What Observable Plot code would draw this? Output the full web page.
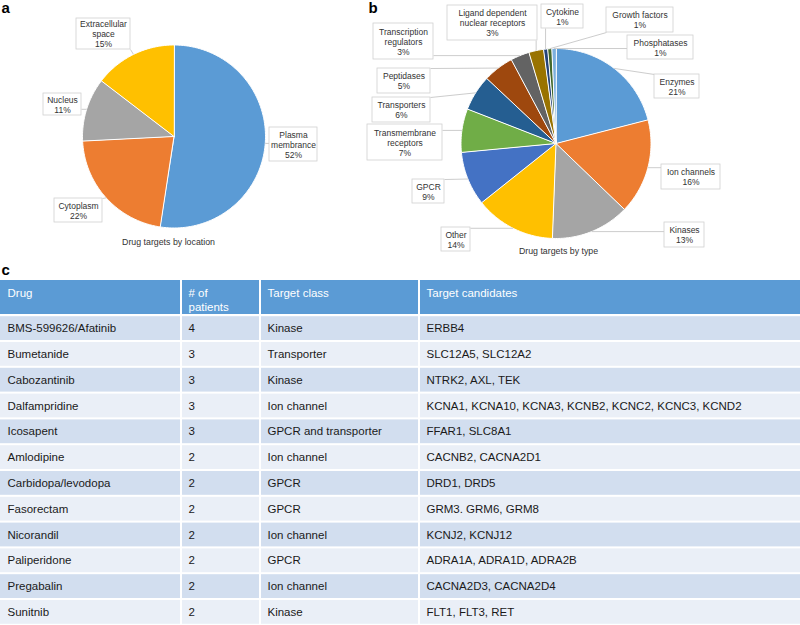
<!DOCTYPE html>
<html>
<head>
<meta charset="utf-8">
<script src="https://cdn.jsdelivr.net/npm/d3@7"></script>
<script src="https://cdn.jsdelivr.net/npm/@observablehq/plot@0.6"></script>
<style>
  html, body { margin: 0; padding: 0; background: #fff; overflow: hidden; }
  #chart svg { display: block; }
</style>
</head>
<body>
<div id="chart"></div>
<script>
// ---------------- DATA ----------------
// Panel a: drug targets by location (share of targets, %)
const locationNames  = ["Plasma membrance", "Cytoplasm", "Nucleus", "Extracellular space"];
const locationLabels = ["Plasma\nmembrance", "Cytoplasm", "Nucleus", "Extracellular\nspace"];
const locationShares = [52.4, 21.8, 11.2, 14.6];
const locationTitle  = "Drug targets by location";

// Panel b: drug targets by type (share of targets, %)
const typeNames  = ["Enzymes", "Ion channels", "Kinases", "Other", "GPCR", "Transmembrane receptors",
                    "Transporters", "Peptidases", "Transcription regulators",
                    "Ligand dependent nuclear receptors", "Cytokine", "Growth factors", "Phosphatases"];
const typeLabels = ["Enzymes", "Ion channels", "Kinases", "Other", "GPCR", "Transmembrane\nreceptors",
                    "Transporters", "Peptidases", "Transcription\nregulators",
                    "Ligand dependent\nnuclear receptors", "Cytokine", "Growth factors", "Phosphatases"];
const typeShares = [21.0, 16.2, 13.4, 13.7, 9.2, 7.4, 6.1, 5.2, 3.2, 2.5, 0.7, 0.7, 0.7];
const typeTitle  = "Drug targets by type";

// Panel c: table
const tableHeaders = ["Drug", "# of\npatients", "Target class", "Target candidates"];
const drugs = ["BMS-599626/Afatinib", "Bumetanide", "Cabozantinib", "Dalfampridine", "Icosapent",
               "Amlodipine", "Carbidopa/levodopa", "Fasorectam", "Nicorandil", "Paliperidone",
               "Pregabalin", "Sunitnib"];
const patients = [4, 3, 3, 3, 3, 2, 2, 2, 2, 2, 2, 2];
const targetClasses = ["Kinase", "Transporter", "Kinase", "Ion channel", "GPCR and transporter",
                       "Ion channel", "GPCR", "GPCR", "Ion channel", "GPCR", "Ion channel", "Kinase"];
const targetCandidates = ["ERBB4", "SLC12A5, SLC12A2", "NTRK2, AXL, TEK",
                          "KCNA1, KCNA10, KCNA3, KCNB2, KCNC2, KCNC3, KCND2", "FFAR1, SLC8A1",
                          "CACNB2, CACNA2D1", "DRD1, DRD5", "GRM3. GRM6, GRM8", "KCNJ2, KCNJ12",
                          "ADRA1A, ADRA1D, ADRA2B", "CACNA2D3, CACNA2D4", "FLT1, FLT3, RET"];
const panelLetters = ["a", "b", "c"];

// ---------------- LAYOUT & STYLE ----------------
const W = 800, H = 625;
const FONT = "'Liberation Sans', Arial, Helvetica, sans-serif";
const palette = ["#5B9BD5", "#ED7D31", "#A5A5A5", "#FFC000", "#4472C4", "#70AD47",
                 "#255E91", "#9E480E", "#636363", "#997300", "#264478", "#43682B", "#7CAFDD"];
const pieA = {cx: 173.5, cy: 136, r: 91.5, title: [168, 242],
  boxes: [[269,127,317,161],[54,198,102,222],[43,93,81,115],[76,18,130,49]]};
const pieB = {cx: 555.5, cy: 143, r: 95, title: [558, 251],
  boxes: [[654,74,699,98],[661,164,720,189],[664,222,704,247],[441,227,470,251],[412,179,444,203],
          [367,124,442,160],[372,97,430,122],[377,68,430,93],[373,23,433,59],[447,5,537,40],
          [541,4,583,28],[606,7,673,32],[627,35,693,59]]};
const letterPos = [[1, 8], [368, 8], [1, 270]];
const table = {cols: [0, 181, 260, 419, 800], headerTop: 280, headerBottom: 314, bodyTop: 315.2, rowH: 25.8,
               textDx: 7, headerFill: "#5B9BD5", band: ["#D2DEEF", "#EAEFF7"]};

// ---------------- BUILD GEOMETRY ----------------
function buildPie(names, labels, shares, pie, key) {
  const total = d3.sum(shares);
  let acc = 0;
  const pts = [], leaders = [], boxes = [], texts = [];
  names.forEach((n, i) => {
    const a0 = acc / total * 2 * Math.PI; acc += shares[i];
    const a1 = acc / total * 2 * Math.PI;
    const id = key + i;
    const steps = Math.max(2, Math.ceil((a1 - a0) / (Math.PI / 180)));
    pts.push({id, x: pie.cx, y: pie.cy, fill: palette[i]});
    for (let k = 0; k <= steps; k++) {
      const a = a0 + (a1 - a0) * k / steps;
      pts.push({id, x: pie.cx + pie.r * Math.sin(a), y: pie.cy - pie.r * Math.cos(a), fill: palette[i]});
    }
    const am = (a0 + a1) / 2;
    const px = pie.cx + pie.r * Math.sin(am), py = pie.cy - pie.r * Math.cos(am);
    const [bx1, by1, bx2, by2] = pie.boxes[i];
    const ex = Math.max(bx1, Math.min(bx2, px)), ey = Math.max(by1, Math.min(by2, py));
    leaders.push({x1: px, y1: py, x2: ex, y2: ey});
    boxes.push({x1: bx1, y1: by1, x2: bx2, y2: by2});
    texts.push({x: (bx1 + bx2) / 2, y: (by1 + by2) / 2,
                text: labels[i] + "\n" + Math.round(shares[i] / total * 100) + "%"});
  });
  return {pts, leaders, boxes, texts};
}
const A = buildPie(locationNames, locationLabels, locationShares, pieA, "a");
const B = buildPie(typeNames, typeLabels, typeShares, pieB, "b");

// table cells
const cells = [], cellTexts = [], headerTexts = [];
tableHeaders.forEach((h, j) => {
  cells.push({x1: table.cols[j] + (j ? 1 : 0), x2: table.cols[j + 1] - (j < 3 ? 1 : 0),
              y1: table.headerTop, y2: table.headerBottom, fill: table.headerFill});
  headerTexts.push({x: table.cols[j] + table.textDx, y: table.headerTop + 7.5, text: h});
});
drugs.forEach((d, i) => {
  const y1 = table.bodyTop + i * table.rowH + 1, y2 = table.bodyTop + (i + 1) * table.rowH - 1;
  const vals = [d, String(patients[i]), targetClasses[i], targetCandidates[i]];
  vals.forEach((v, j) => {
    cells.push({x1: table.cols[j] + (j ? 1 : 0), x2: table.cols[j + 1] - (j < 3 ? 1 : 0),
                y1, y2, fill: table.band[i % 2]});
    cellTexts.push({x: table.cols[j] + table.textDx, y: (y1 + y2) / 2, text: v});
  });
});
const letters = panelLetters.map((t, i) => ({x: letterPos[i][0], y: letterPos[i][1], text: t}));
const titles = [{x: pieA.title[0], y: pieA.title[1], text: locationTitle},
                {x: pieB.title[0], y: pieB.title[1], text: typeTitle}];

// ---------------- PLOT ----------------
const chart = Plot.plot({
  width: W, height: H,
  margin: 0,
  x: {domain: [0, W], range: [0, W], axis: null},
  y: {domain: [0, H], range: [0, H], axis: null},
  color: {type: "identity"},
  style: {fontFamily: FONT, background: "white", color: "#222", overflow: "visible"},
  marks: [
    // pies
    Plot.line(A.pts, {x: "x", y: "y", z: "id", fill: "fill", stroke: "white", strokeWidth: 1, curve: "linear-closed"}),
    Plot.line(B.pts, {x: "x", y: "y", z: "id", fill: "fill", stroke: "white", strokeWidth: 1, curve: "linear-closed"}),
    // leader lines
    Plot.link([...A.leaders, ...B.leaders], {x1: "x1", y1: "y1", x2: "x2", y2: "y2", stroke: "#BFBFBF", strokeWidth: 0.8}),
    // label boxes
    Plot.rect([...A.boxes, ...B.boxes], {x1: "x1", y1: "y1", x2: "x2", y2: "y2", fill: "white", stroke: "#D0D0D0", strokeWidth: 0.8}),
    Plot.text([...A.texts, ...B.texts], {x: "x", y: "y", text: "text", fontSize: 8.5, lineHeight: 1.18, fill: "#333"}),
    Plot.text(titles, {x: "x", y: "y", text: "text", fontSize: 8.8, fill: "#333"}),
    // table
    Plot.rect(cells, {x1: "x1", x2: "x2", y1: "y1", y2: "y2", fill: "fill"}),
    Plot.text(headerTexts, {x: "x", y: "y", text: "text", textAnchor: "start", lineAnchor: "top",
                            fontSize: 11.5, lineHeight: 1.15, fill: "white"}),
    Plot.text(cellTexts, {x: "x", y: "y", text: "text", textAnchor: "start", fontSize: 11.5, fill: "#1a1a1a"}),
    // panel letters
    Plot.text(letters, {x: "x", y: "y", text: "text", textAnchor: "start", fontSize: 15, fontWeight: "bold", fill: "#000"})
  ]
});
document.getElementById("chart").appendChild(chart);
</script>
</body>
</html>
